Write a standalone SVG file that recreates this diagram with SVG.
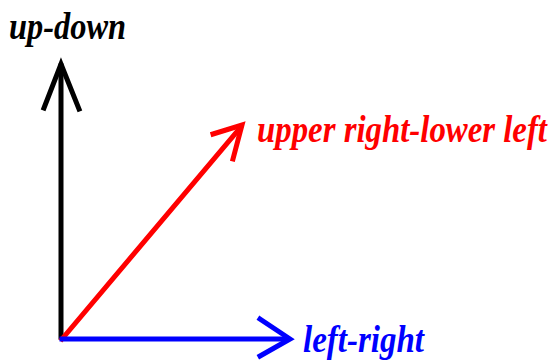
<svg xmlns="http://www.w3.org/2000/svg" width="557" height="360" viewBox="0 0 557 360">
<style>
.lbl{font-family:"Liberation Serif","DejaVu Serif",serif;font-weight:bold;font-style:italic;font-size:38px}
.ln{fill:none;stroke-width:5;stroke-linecap:square;stroke-linejoin:miter}
</style>
<rect width="557" height="360" fill="#fff"/>
<g id="connectors">
<path class="ln" stroke="#000" d="M61,337 V66"/>
<path class="ln" stroke="#000" stroke-linecap="round" d="M44,108 L61,64 L79,109"/>
<path class="ln" stroke="#f00" d="M62,339 L240,128"/>
<path class="ln" stroke="#f00" stroke-linecap="round" d="M213,134 L242,125 L233,159"/>
<path class="ln" stroke="#00f" d="M62,339 H287"/>
<path class="ln" stroke="#00f" stroke-linecap="round" d="M260,319 L290,339 L260,356"/>
</g>
<g id="up-down"><text class="lbl" x="9" y="39" fill="#000" textLength="117" lengthAdjust="spacingAndGlyphs">up-down</text></g>
<g id="upper-right-lower-left"><text class="lbl" x="257" y="142" fill="#f00" textLength="290" lengthAdjust="spacingAndGlyphs">upper right-lower left</text></g>
<g id="left-right"><text class="lbl" x="303" y="352" fill="#00f" textLength="121" lengthAdjust="spacingAndGlyphs">left-right</text></g>
</svg>
